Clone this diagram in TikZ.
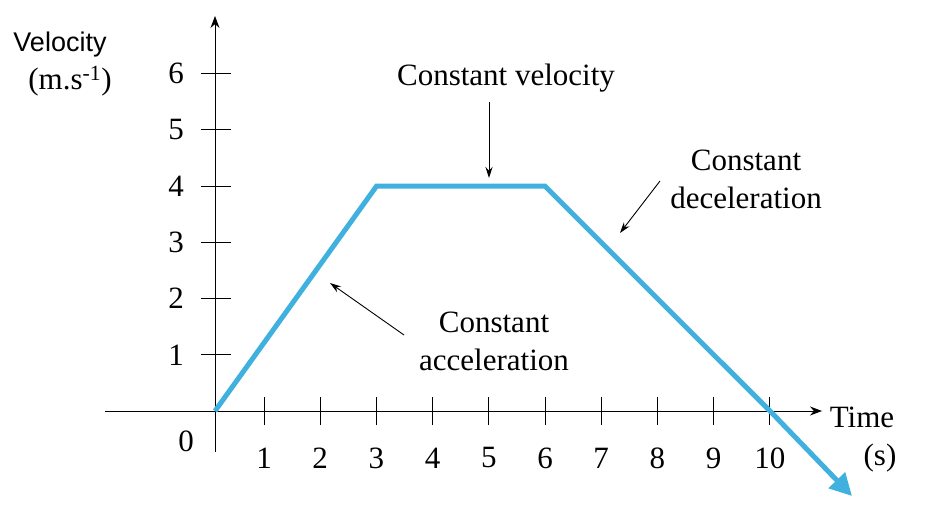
\documentclass[tikz,border=0pt]{standalone}
\usepackage{fontspec}
\setmainfont{Liberation Serif}
\newfontfamily\sans{Liberation Sans}
\usetikzlibrary{arrows.meta}
\definecolor{lineblue}{RGB}{64,176,222}
\tikzset{
  txt/.style={font=\fontsize{31}{38}\selectfont, inner sep=0pt, align=center},
  axis/.style={line width=1pt, -{Stealth[length=12pt,width=9pt]}},
  tick/.style={line width=1pt},
  note/.style={line width=0.9pt, -{Stealth[length=11pt,width=7pt]}},
  graph/.style={line width=5pt, color=lineblue, line join=miter}
}
\begin{document}
\begin{tikzpicture}[x=1pt,y=-1pt]
\useasboundingbox (0,0) rectangle (948,521);
\coordinate (xs) at (105,411);
\coordinate (xe) at (822,411);
\coordinate (ys) at (215,452);
\coordinate (ye) at (215,16);
\draw[axis] (xs) -- (xe);
\draw[axis] (ys) -- (ye);
\foreach \i in {1,...,10} {
  \draw[tick] (207.8+56.2*\i,397) -- (207.8+56.2*\i,425);
  \node[txt] (xl\i) at (207.8+56.2*\i,458) {\i};
}
\foreach \i in {1,...,6} {
  \draw[tick] (201,411-56.2*\i) -- (231,411-56.2*\i);
  \node[txt] (yl\i) at (176,411-56.2*\i) {\i};
}
\node[txt] (zero) at (186,441) {0};
\node[txt,font=\sans\fontsize{27}{30}\selectfont] (vel) at (60,45) {Velocity};
\node[txt] (unit) at (70,81) {(m.s\textsuperscript{-1})};
\node[txt] (time) at (862,417) {Time};
\node[txt] (sec) at (880,458) {(s)};
\coordinate (p0) at (215,411);
\coordinate (p3) at (376.5,186.2);
\coordinate (p6) at (545,186.2);
\coordinate (p10) at (770,411);
\coordinate (pend) at (852,496);
\draw[graph] (p0) -- (p3) -- (p6) -- (p10);
\draw[graph, -{Triangle[length=22pt,width=22pt]}] (p10) -- (pend);
\node[txt] (cv) at (506,78) {Constant velocity};
\node[txt] (cd) at (746,179) {Constant\\deceleration};
\node[txt] (ca) at (494,341) {Constant\\acceleration};
\coordinate (cvt) at (489,178);
\coordinate (cdt) at (620,233);
\coordinate (cat) at (330,283);
\draw[note] (489,102) -- (cvt);
\draw[note] (660,181) -- (cdt);
\draw[note] (404,335) -- (cat);
\end{tikzpicture}
\end{document}
